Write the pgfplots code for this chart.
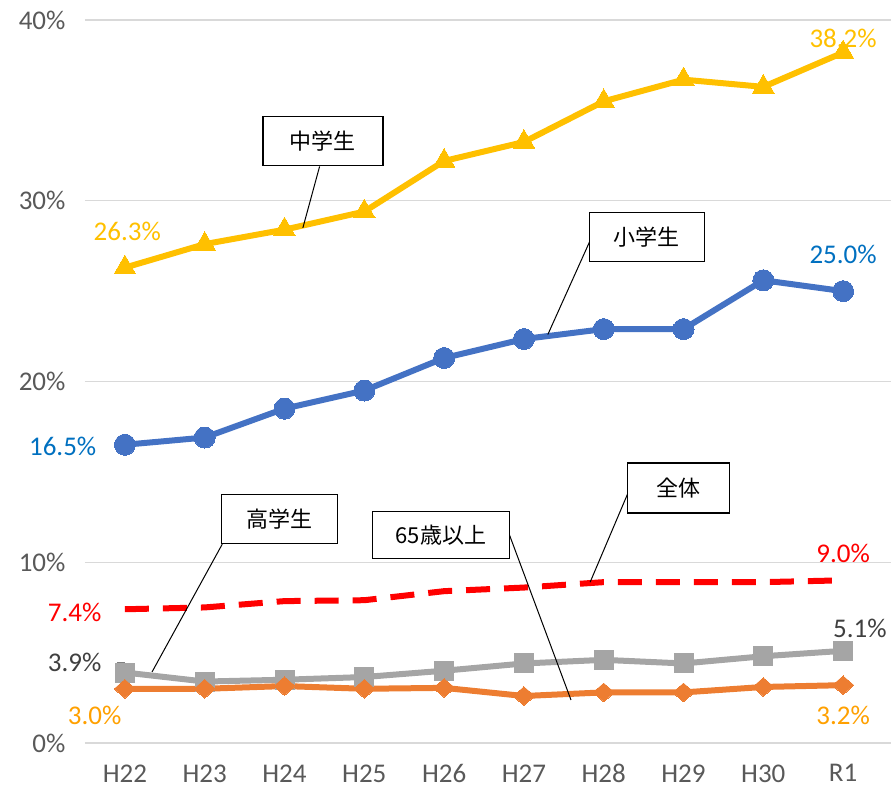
\documentclass[border=0pt]{standalone}
\usepackage{pgfplots}
\pgfplotsset{compat=1.18}
\usepackage{fontspec}
\setmainfont{Carlito}
\newfontfamily\jp{Noto Sans CJK JP}
\definecolor{cyel}{HTML}{FFC000}
\definecolor{cblue}{HTML}{4472C4}
\definecolor{corange}{HTML}{ED7D31}
\definecolor{cgray}{HTML}{A5A5A5}
\definecolor{lblue}{HTML}{0070C0}
\definecolor{lorange}{HTML}{FFA000}
\definecolor{ldark}{HTML}{404040}
\definecolor{ticktext}{HTML}{595959}
\definecolor{gridc}{HTML}{D9D9D9}
\begin{document}
\begin{tikzpicture}
\path[use as bounding box] (-85pt,-47pt) rectangle (806pt,743pt);
\begin{axis}[
  at={(0,0)}, anchor=south west,
  scale only axis, width=806pt, height=723pt,
  xmin=-0.5, xmax=9.6, ymin=0, ymax=40,
  axis line style={draw=none},
  ytick={0,10,20,30,40},
  yticklabel={\pgfmathprintnumber{\tick}\%},
  xtick={0,...,9},
  xticklabels={H22,H23,H24,H25,H26,H27,H28,H29,H30,R1},
  ymajorgrids, grid style={draw=gridc, line width=1.5pt},
  major tick length=0pt,
  tick label style={font=\fontsize{27}{32}\selectfont, text=ticktext},
  xticklabel style={yshift=-18pt},
  yticklabel style={xshift=-16pt},
  /pgf/number format/assume math mode=true,
  clip=false,
  every axis plot/.append style={line width=6pt, line join=round},
]
\addplot[color=cblue, mark=*, mark size=10.5pt, mark options={fill=cblue, draw=cblue, line width=0pt}]
 coordinates {(0,16.5) (1,16.9) (2,18.5) (3,19.5) (4,21.3) (5,22.35) (6,22.9) (7,22.9) (8,25.6) (9,25.0)};
\addplot[color=cyel, mark=triangle*, mark size=12.5pt, mark options={fill=cyel, draw=cyel, line width=0pt}]
 coordinates {(0,26.3) (1,27.6) (2,28.4) (3,29.4) (4,32.2) (5,33.25) (6,35.5) (7,36.7) (8,36.3) (9,38.2)};
\addplot[color=cgray, mark=square*, mark size=9.5pt, mark options={fill=cgray, draw=cgray, line width=0pt}]
 coordinates {(0,3.9) (1,3.4) (2,3.5) (3,3.65) (4,4.0) (5,4.4) (6,4.6) (7,4.4) (8,4.8) (9,5.1)};
\addplot[color=red, line width=6pt, dash pattern=on 24pt off 14pt, line cap=butt]
 coordinates {(0,7.4) (1,7.5) (2,7.85) (3,7.9) (4,8.4) (5,8.6) (6,8.9) (7,8.9) (8,8.9) (9,9.0)};
\addplot[color=corange, mark=diamond*, mark size=11pt, mark options={fill=corange, draw=corange, line width=0pt, xscale=1.3, yscale=0.85}]
 coordinates {(0,3.0) (1,3.0) (2,3.15) (3,3.0) (4,3.05) (5,2.6) (6,2.8) (7,2.8) (8,3.1) (9,3.2)};

% data labels
\begin{scope}[every node/.style={font=\fontsize{27}{32}\selectfont, inner sep=0pt}]
\node[text=cyel] at (axis cs:0.03,28.3) {26.3\%};
\node[text=cyel] at (axis cs:9,39.0) {38.2\%};
\node[text=lblue] at (axis cs:-0.78,16.4) {16.5\%};
\node[text=lblue] at (axis cs:9,27.05) {25.0\%};
\node[text=red] at (axis cs:-0.63,7.25) {7.4\%};
\node[text=red] at (axis cs:9,10.5) {9.0\%};
\node[text=ldark] at (axis cs:-0.63,4.48) {3.9\%};
\node[text=ldark] at (axis cs:9.21,6.36) {5.1\%};
\node[text=lorange] at (axis cs:-0.38,1.5) {3.0\%};
\node[text=lorange] at (axis cs:9,1.5) {3.2\%};
\end{scope}
\draw[gray, line width=1pt] (axis cs:9,38.1) -- (axis cs:9,38.6);
\draw[gray, line width=1pt] (axis cs:-0.1,4.45) -- (axis cs:0.0,4.45);

% callouts
\draw[black, line width=1pt] (axis cs:2.44,31.9) -- (axis cs:2.23,28.5);
\draw[black, line width=1pt] (axis cs:5.83,27.8) -- (axis cs:5.30,22.6);
\draw[black, line width=1pt] (axis cs:1.22,11.0) -- (axis cs:0.34,3.93);
\draw[black, line width=1pt] (axis cs:4.82,11.5) -- (axis cs:5.59,2.38);
\draw[black, line width=1pt] (axis cs:6.33,14.1) -- (axis cs:5.83,8.9);
\begin{scope}[every node/.style={draw=black, line width=1.5pt, fill=white, font=\jp\fontsize{22}{26}\selectfont, inner sep=0pt, minimum height=49pt}]
\node[minimum width=120pt] at (axis cs:2.48,33.3) {中学生};
\node[minimum width=115pt] at (axis cs:6.54,28.0) {小学生};
\node[minimum width=116pt] at (axis cs:1.94,12.4) {高学生};
\node[minimum width=137pt, minimum height=47pt] at (axis cs:3.96,11.5) {65歳以上};
\node[minimum width=102pt, minimum height=50pt] at (axis cs:6.94,14.1) {全体};
\end{scope}
\end{axis}
\end{tikzpicture}
\end{document}
